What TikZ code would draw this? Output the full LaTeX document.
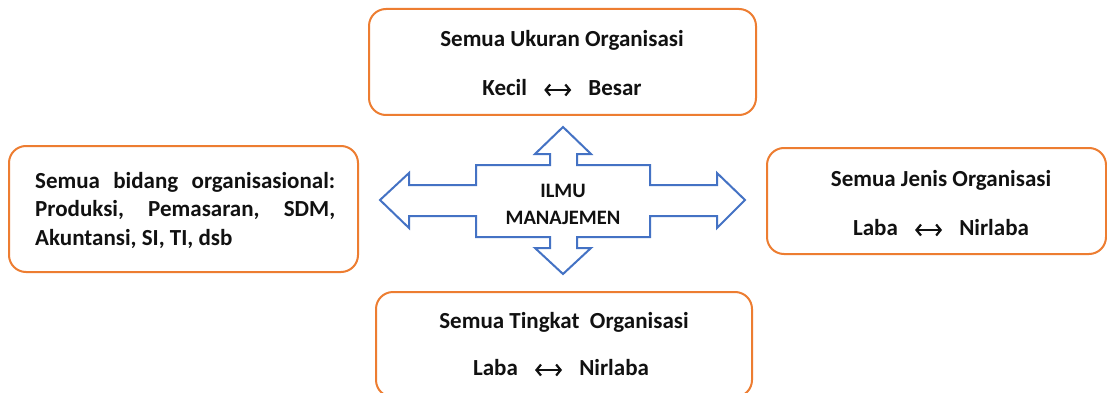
\documentclass[tikz,border=0pt]{standalone}
\usepackage{fontspec}
\usetikzlibrary{arrows.meta}
\setmainfont{Carlito}
\definecolor{boxorange}{HTML}{ED7D31}
\definecolor{arrowblue}{HTML}{4472C4}
\definecolor{ink}{HTML}{111111}
\tikzset{
  panel/.style={draw=boxorange, line width=2pt, rounded corners=17pt, fill=white},
  label/.style={text=ink, font=\fontsize{23}{28.5}\selectfont\bfseries, inner sep=0pt, anchor=center},
  hub/.style={draw=arrowblue, line width=2pt, fill=white, line join=miter},
  hubtext/.style={text=ink, font=\fontsize{20.5}{27}\selectfont\bfseries, align=center, inner sep=0pt}
}
% two-headed arrow used between the paired words
\newsavebox{\twoway}
\sbox{\twoway}{\tikz[baseline=-5.5pt]\draw[ink, line width=2.2pt,
  {Straight Barb[length=4.5pt,width=11pt]}-{Straight Barb[length=4.5pt,width=11pt]}]
  (0,0) -- (27pt,0);}
\newcommand{\lr}{\hspace{0.7em}\usebox{\twoway}\hspace{0.7em}}
\begin{document}
\begin{tikzpicture}[x=1pt,y=-1pt]
\useasboundingbox (0,0) rectangle (1107,393);
\fill[white] (0,0) rectangle (1107,393);

% four surrounding panels
\draw[panel] (369,9) rectangle (756,115);
\draw[panel] (9,146) rectangle (358,272);
\draw[panel] (767,148) rectangle (1106,254);
\draw[panel] (376,292) rectangle (752,397);

% four-way arrow in the middle
\draw[hub] (380,200) -- (409,173) -- (409,185) -- (476,185) -- (476,165)
  -- (550,165) -- (550,154) -- (535,154) -- (563,127) -- (591,154) -- (577,154) -- (577,165)
  -- (650,165) -- (650,185) -- (717,185) -- (717,173) -- (745,200) -- (717,228) -- (717,216)
  -- (650,216) -- (650,237) -- (577,237) -- (577,248) -- (591,248) -- (563,274) -- (535,248)
  -- (550,248) -- (550,237) -- (476,237) -- (476,216) -- (409,216) -- (409,228) -- cycle;
\node[hubtext] (hub) at (563,204) {ILMU\\MANAJEMEN};

% top panel: size
\node[label] (sizeT) at (562,40) {Semua Ukuran Organisasi};
\node[label] (sizeR) at (562,88) {Kecil\lr Besar};

% left panel: fields
\node[label, anchor=north west, text width=300pt, align=justify] (fields) at (35,172)
  {Semua bidang organisasional: Produksi, Pemasaran, SDM, Akuntansi, SI, TI, dsb};

% right panel: type
\node[label] (typeT) at (941,180) {Semua Jenis Organisasi};
\node[label] (typeR) at (941,228) {Laba\lr Nirlaba};

% bottom panel: level
\node[label] (levelT) at (564,322) {Semua Tingkat\ \ Organisasi};
\node[label] (levelR) at (561,368) {Laba\lr Nirlaba};
\end{tikzpicture}
\end{document}
